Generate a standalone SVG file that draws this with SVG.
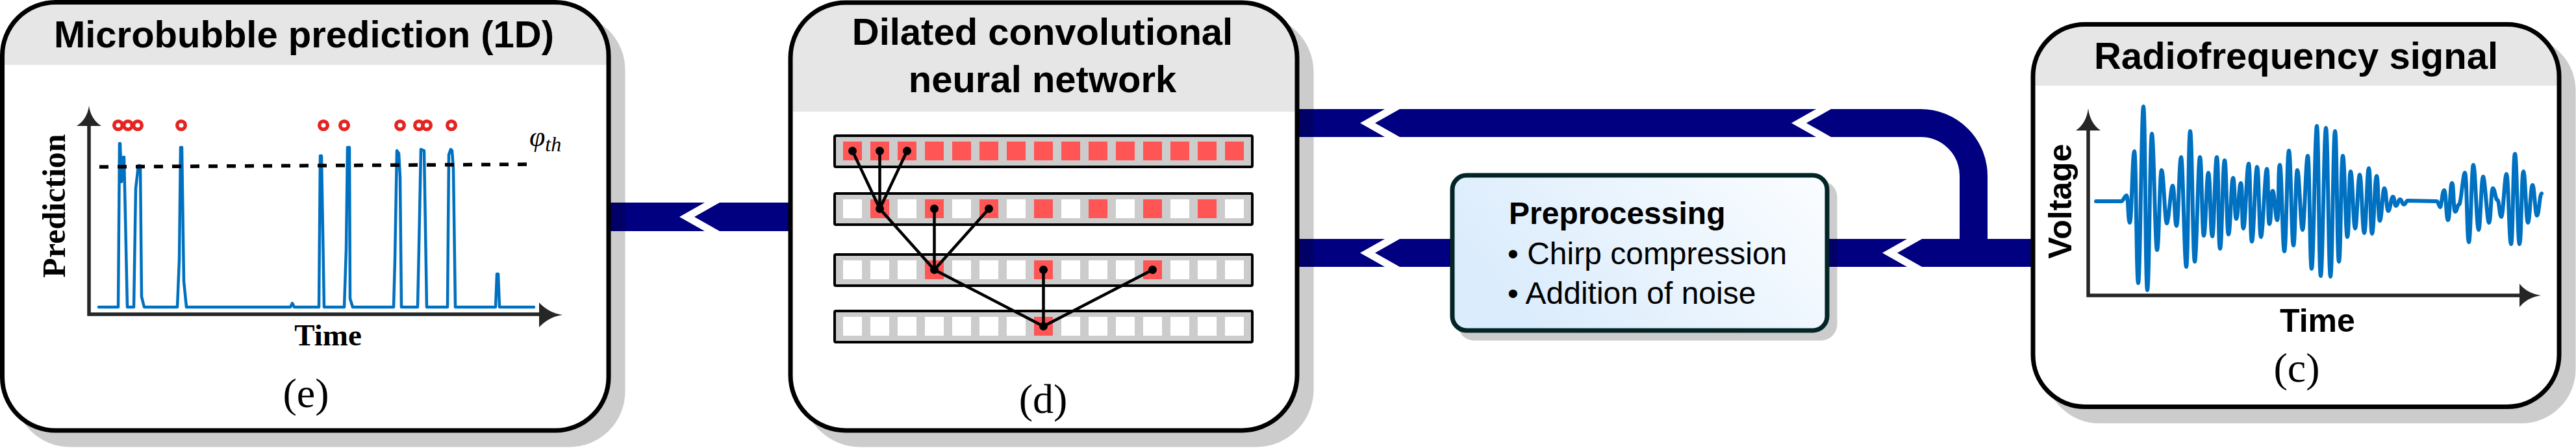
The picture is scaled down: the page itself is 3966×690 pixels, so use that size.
<svg xmlns="http://www.w3.org/2000/svg" width="3966" height="690" viewBox="0 0 3966 690">
<style>
.title{font-family:"Liberation Sans",Arial,sans-serif;font-weight:bold;font-size:58px;text-anchor:middle;fill:#000}
.lbl{font-family:"Liberation Serif","Times New Roman",serif;font-size:64px;text-anchor:middle;fill:#000}
.serifb{font-family:"Liberation Serif","Times New Roman",serif;font-weight:bold;text-anchor:middle;fill:#000}
.sansb{font-family:"Liberation Sans",Arial,sans-serif;font-weight:bold;fill:#000}
.sans{font-family:"Liberation Sans",Arial,sans-serif;fill:#000}
.shadow{fill:#000;opacity:.2}
.panel{fill:#fff}
.border{fill:none;stroke:#000;stroke-width:7}
.hdr{fill:#e6e6e6}
.band{fill:none;stroke:#000080;stroke-width:43}
.chev{fill:#fff}
.row{fill:#ccc;stroke:#000;stroke-width:4}
.w{fill:#fff}
.r{fill:#ff5555}
.link{stroke:#000;stroke-width:4.5;fill:none}
.dot{fill:#000}
.axis{fill:none;stroke:#262626;stroke-width:5.5}
.ahead{fill:#262626}
.sig{fill:none;stroke:#0070c0;stroke-linejoin:round;stroke-linecap:round}
.mb{fill:none;stroke:#e52421;stroke-width:5.5}
</style>
<defs>
<polygon id="chevron" class="chev" points="40.7,-23 0,0 40.7,23 63.7,23 23,0 63.7,-23"/>
<linearGradient id="boxgrad" x1="0" y1="0.4" x2="1" y2="0">
<stop offset="0" stop-color="#dbecfc"/>
<stop offset="1" stop-color="#fbfdff"/>
</linearGradient>
</defs>

<g id="connectors">
<rect x="930" y="312" width="292" height="44" fill="#000080"/>
<path class="band" d="M1990,189.5 H2957 A81.5,81.5 0 0 1 3038.5,271 V395"/>
<path class="band" d="M1990,389.5 H3134"/>
<use href="#chevron" transform="translate(1046,334)"/>
<use href="#chevron" transform="translate(2094,189.5)"/>
<use href="#chevron" transform="translate(2758,189.5)"/>
<use href="#chevron" transform="translate(2094,389.5)"/>
<use href="#chevron" transform="translate(2898,389.5)"/>
</g>

<g id="node-e">
<rect class="shadow" x="22" y="22" width="940.5" height="666.5" rx="85.5"/>
<rect class="panel" x="3.5" y="3.5" width="933.5" height="659.5" rx="82"/>
<path class="hdr" d="M3.5,100 V85.5 A82,82 0 0 1 85.5,3.5 H855 A82,82 0 0 1 937,85.5 V100 Z"/>
<rect class="border" x="3.5" y="3.5" width="933.5" height="659.5" rx="82"/>
<text class="title" x="468" y="73">Microbubble prediction (1D)</text>
<path class="sig" stroke-width="4.5" d="M152,473 L182,473 L184,221 L185,221 L187,280 L190,242 L191,242 L196,473 L206,473 L209,290 L213,255 L216,255 L218,457 L222,473 L273,473 L276,400 L278,227 L280,227 L283,433 L287,473 L447,473 L450,467 L453,473 L491,473 L493,240 L495,240 L499,473 L530,473 L533,383 L535,227 L538,227 L539,460 L543,473 L606,473 L608,400 L611,232 L614,236 L616,273 L618,473 L643,473 L645,380 L648,230 L653,232 L657,473 L689,473 L691,238 L694,230 L696,232 L698,260 L701,473 L763,473 L765,422 L767,422 L769,473 L822,473"/>
<path d="M153,257 L820,253" stroke="#000" stroke-width="5.5" stroke-dasharray="14 14" fill="none"/>
<path class="axis" d="M137,190 V484 H836"/>
<path class="ahead" d="M137,163 Q140,184 156,194 L118,194 Q134,184 137,163 Z"/>
<path class="ahead" d="M866,485 Q845,488 830,504 L830,466 Q845,482 866,485 Z"/>
<circle class="mb" cx="182" cy="193" r="6.3"/>
<circle class="mb" cx="197" cy="193" r="6.3"/>
<circle class="mb" cx="212" cy="193" r="6.3"/>
<circle class="mb" cx="279" cy="193" r="6.3"/>
<circle class="mb" cx="498" cy="193" r="6.3"/>
<circle class="mb" cx="530" cy="193" r="6.3"/>
<circle class="mb" cx="616" cy="193" r="6.3"/>
<circle class="mb" cx="645" cy="193" r="6.3"/>
<circle class="mb" cx="657" cy="193" r="6.3"/>
<circle class="mb" cx="695" cy="193" r="6.3"/>
<text font-family="Liberation Serif,'Times New Roman',serif" font-style="italic" font-size="44" x="815" y="225">φ<tspan font-size="32" dy="8">th</tspan></text>
<text class="serifb" font-size="50" transform="translate(100,317) rotate(-90)">Prediction</text>
<text class="serifb" font-size="47" x="505" y="532">Time</text>
<text class="lbl" x="471" y="627">(e)</text>
</g>

<g id="node-d">
<rect class="shadow" x="1235.5" y="22.5" width="787" height="666" rx="88.5"/>
<rect class="panel" x="1217" y="4" width="780" height="659" rx="85"/>
<path class="hdr" d="M1217,172 V89 A85,85 0 0 1 1302,4 H1912 A85,85 0 0 1 1997,89 V172 Z"/>
<rect class="border" x="1217" y="4" width="780" height="659" rx="85"/>
<text class="title" x="1605" y="69">Dilated convolutional</text>
<text class="title" x="1605" y="142">neural network</text>
<rect class="row" x="1285" y="209" width="643" height="48" rx="2"/>
<rect class="row" x="1285" y="298" width="643" height="48" rx="2"/>
<rect class="row" x="1285" y="392" width="643" height="48" rx="2"/>
<rect class="row" x="1285" y="479" width="643" height="48" rx="2"/>
<g class="r">
<rect x="1298" y="218" width="29" height="29"/><rect x="1340" y="218" width="29" height="29"/><rect x="1382" y="218" width="29" height="29"/><rect x="1424" y="218" width="29" height="29"/><rect x="1466" y="218" width="29" height="29"/><rect x="1508" y="218" width="29" height="29"/><rect x="1550" y="218" width="29" height="29"/><rect x="1592" y="218" width="29" height="29"/><rect x="1634" y="218" width="29" height="29"/><rect x="1676" y="218" width="29" height="29"/><rect x="1718" y="218" width="29" height="29"/><rect x="1760" y="218" width="29" height="29"/><rect x="1802" y="218" width="29" height="29"/><rect x="1844" y="218" width="29" height="29"/><rect x="1886" y="218" width="29" height="29"/>
<rect x="1340" y="307" width="29" height="29"/><rect x="1424" y="307" width="29" height="29"/><rect x="1508" y="307" width="29" height="29"/><rect x="1592" y="307" width="29" height="29"/><rect x="1676" y="307" width="29" height="29"/><rect x="1760" y="307" width="29" height="29"/><rect x="1844" y="307" width="29" height="29"/>
<rect x="1424" y="401" width="29" height="29"/><rect x="1592" y="401" width="29" height="29"/><rect x="1760" y="401" width="29" height="29"/>
<rect x="1592" y="488" width="29" height="29"/>
</g>
<g class="w">
<rect x="1298" y="307" width="29" height="29"/><rect x="1382" y="307" width="29" height="29"/><rect x="1466" y="307" width="29" height="29"/><rect x="1550" y="307" width="29" height="29"/><rect x="1634" y="307" width="29" height="29"/><rect x="1718" y="307" width="29" height="29"/><rect x="1802" y="307" width="29" height="29"/><rect x="1886" y="307" width="29" height="29"/>
<rect x="1298" y="401" width="29" height="29"/><rect x="1340" y="401" width="29" height="29"/><rect x="1382" y="401" width="29" height="29"/><rect x="1466" y="401" width="29" height="29"/><rect x="1508" y="401" width="29" height="29"/><rect x="1550" y="401" width="29" height="29"/><rect x="1634" y="401" width="29" height="29"/><rect x="1676" y="401" width="29" height="29"/><rect x="1718" y="401" width="29" height="29"/><rect x="1802" y="401" width="29" height="29"/><rect x="1844" y="401" width="29" height="29"/><rect x="1886" y="401" width="29" height="29"/>
<rect x="1298" y="488" width="29" height="29"/><rect x="1340" y="488" width="29" height="29"/><rect x="1382" y="488" width="29" height="29"/><rect x="1424" y="488" width="29" height="29"/><rect x="1466" y="488" width="29" height="29"/><rect x="1508" y="488" width="29" height="29"/><rect x="1550" y="488" width="29" height="29"/><rect x="1634" y="488" width="29" height="29"/><rect x="1676" y="488" width="29" height="29"/><rect x="1718" y="488" width="29" height="29"/><rect x="1760" y="488" width="29" height="29"/><rect x="1802" y="488" width="29" height="29"/><rect x="1844" y="488" width="29" height="29"/><rect x="1886" y="488" width="29" height="29"/>
</g>
<path class="link" d="M1312.5,232.5 L1354.5,321.5 M1354.5,232.5 L1354.5,321.5 M1396.5,232.5 L1354.5,321.5 M1354.5,321.5 L1438.5,415.5 M1438.5,321.5 L1438.5,415.5 M1522.5,321.5 L1438.5,415.5 M1438.5,415.5 L1606.5,502.5 M1606.5,415.5 L1606.5,502.5 M1774.5,415.5 L1606.5,502.5"/>
<g class="dot">
<circle cx="1312.5" cy="232.5" r="6.5"/><circle cx="1354.5" cy="232.5" r="6.5"/><circle cx="1396.5" cy="232.5" r="6.5"/>
<circle cx="1354.5" cy="321.5" r="6.5"/><circle cx="1438.5" cy="321.5" r="6.5"/><circle cx="1522.5" cy="321.5" r="6.5"/>
<circle cx="1438.5" cy="415.5" r="6.5"/><circle cx="1606.5" cy="415.5" r="6.5"/><circle cx="1774.5" cy="415.5" r="6.5"/>
<circle cx="1606.5" cy="502.5" r="6.5"/>
</g>
<text class="lbl" x="1606" y="636">(d)</text>
</g>

<g id="node-preprocessing">
<rect class="shadow" x="2244.5" y="278.5" width="584" height="246" rx="25"/>
<rect x="2236" y="270" width="577" height="239" rx="22" fill="url(#boxgrad)" stroke="#032525" stroke-width="7"/>
<text class="sansb" font-size="48" x="2323" y="345">Preprocessing</text>
<text class="sans" font-size="48" x="2321" y="407">• Chirp compression</text>
<text class="sans" font-size="48" x="2321" y="468">• Addition of noise</text>
</g>

<g id="node-c">
<rect class="shadow" x="3148.5" y="56" width="817" height="596" rx="83.5"/>
<rect class="panel" x="3130" y="37.5" width="810" height="589" rx="80"/>
<path class="hdr" d="M3130,132 V117.5 A80,80 0 0 1 3210,37.5 H3860 A80,80 0 0 1 3940,117.5 V132 Z"/>
<rect class="border" x="3130" y="37.5" width="810" height="589" rx="80"/>
<text class="title" x="3535" y="106">Radiofrequency signal</text>
<path class="sig" stroke-width="6" d="M3227,310 L3266,310 C3269,310 3271,301 3274,301 S3276,343 3279,343 S3283,233 3286,233 S3289,436 3292,436 S3297,164 3300,164 S3303,447 3306,447 S3310,206 3313,206 S3318,385 3321,385 S3325,262 3328,262 S3333,344 3336,344 S3342,286 3345,286 S3348,348 3351,348 S3355,242 3358,242 S3363,411 3366,411 S3369,202 3372,202 S3376,403 3379,403 S3384,242 3387,242 S3390,363 3393,363 S3397,266 3400,266 S3403,364 3406,364 S3410,242 3413,242 S3415,383 3418,383 S3422,247 3425,247 S3428,361 3431,361 S3435,274 3438,274 S3440,337 3443,337 S3447,282 3450,282 S3451,352 3454,352 S3459,252 3462,252 S3464,372 3467,372 S3472,257 3475,257 S3478,365 3481,365 S3487,260 3490,260 S3491,345 3494,345 S3496,294 3499,294 S3503,339 3506,339 S3507,254 3510,254 S3514,387 3517,387 S3521,232 3524,232 S3528,378 3531,378 S3534,262 3537,262 S3542,354 3545,354 S3550,240 3553,240 S3556,414 3559,414 S3564,194 3567,194 S3570,425 3573,425 S3578,197 3581,197 S3585,426 3588,426 S3592,202 3595,202 S3598,403 3601,403 S3604,240 3607,240 S3611,365 3614,365 S3616,264 3619,264 S3623,352 3626,352 S3630,269 3633,269 S3637,359 3640,359 S3644,259 3647,259 S3649,360 3652,360 S3656,271 3659,271 S3661,340 3664,340 S3668,290 3671,290 S3674,325 3677,325 S3681,303 3684,303 S3686,317 3689,317 S3692,307 3695,307 S3698,315 3701,315 S3704,309 3707,309 L3752,310 C3754,310 3755,319 3757,319 S3760,293 3763,293 S3766,339 3769,339 S3772,282 3775,282 S3777,326 3780,326 S3783,315 3786,315 S3792,266 3795,266 S3798,373 3801,373 S3805,254 3808,254 S3813,354 3816,354 S3820,272 3823,272 S3829,343 3832,343 S3835,290 3838,290 S3842,308 3845,308 S3848,334 3851,334 S3856,268 3859,268 S3863,376 3866,376 S3869,237 3872,237 S3876,376 3879,376 S3882,264 3885,264 S3889,343 3892,343 S3896,285 3899,285 S3903,332 3906,332 S3910,298 3913,298"/>
<path class="axis" d="M3215,195 V455 H3885"/>
<path class="ahead" d="M3215,167 Q3218,190 3234,201 L3196,201 Q3212,190 3215,167 Z"/>
<path class="ahead" d="M3912,455 Q3891,458 3879,473 L3879,437 Q3891,452 3912,455 Z"/>
<text class="sansb" font-size="50" text-anchor="middle" transform="translate(3189,310) rotate(-90)">Voltage</text>
<text class="sansb" font-size="50" text-anchor="middle" x="3568" y="511">Time</text>
<text class="lbl" x="3536" y="588">(c)</text>
</g>
</svg>
